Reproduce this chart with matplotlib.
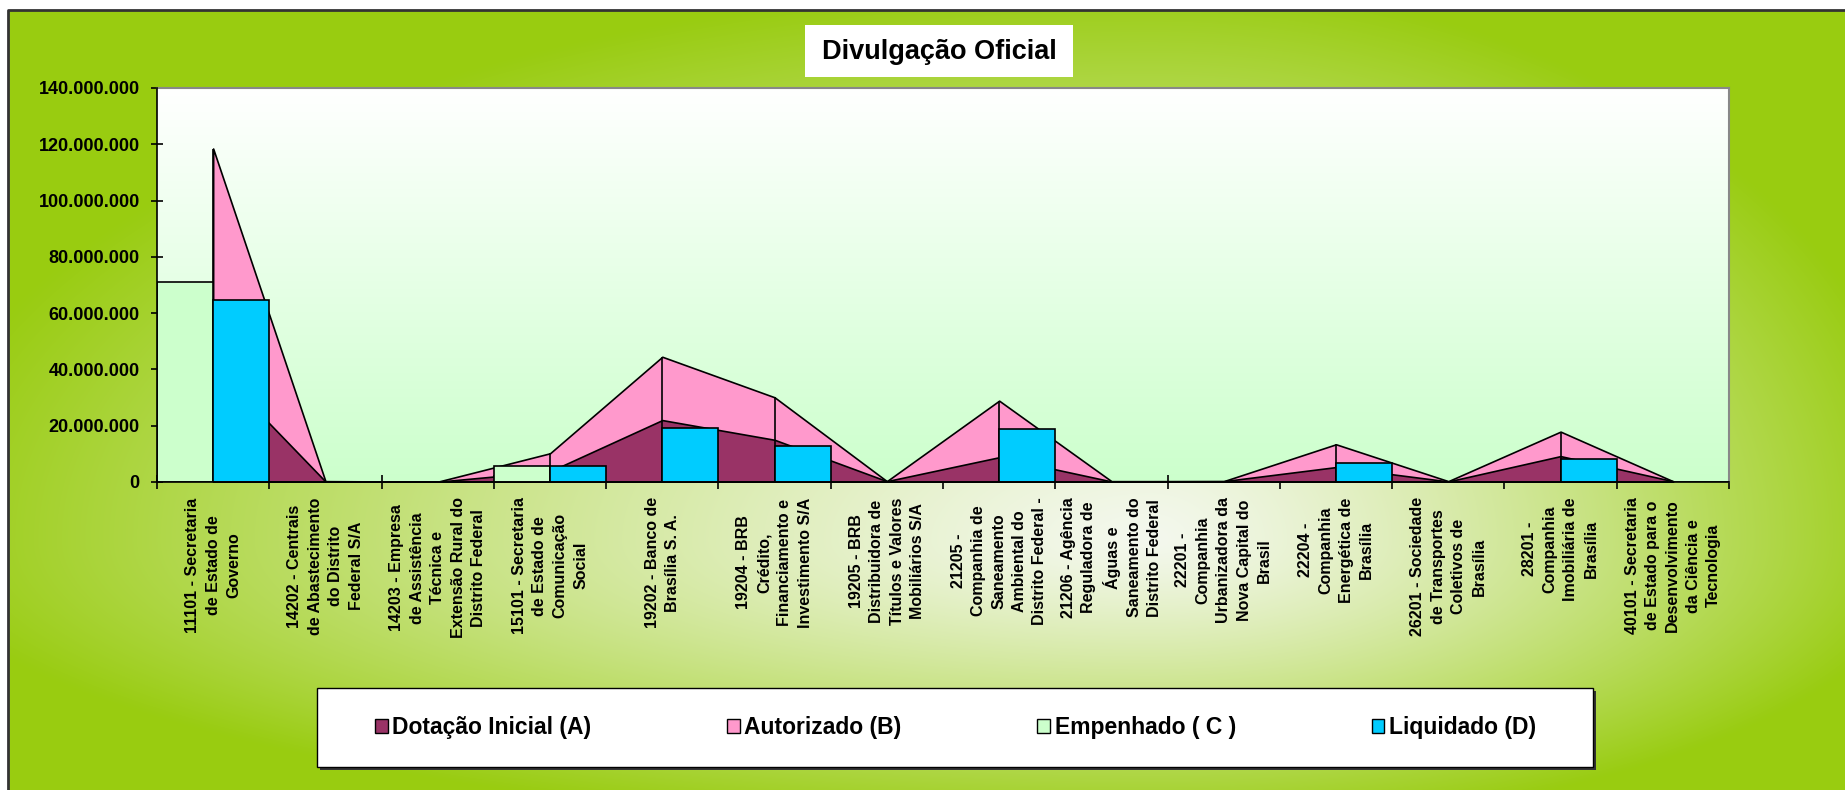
#
# Divulgação Oficial - areas (A, B) with clustered columns (C, D)
#
import numpy as np
import matplotlib.pyplot as plt
from matplotlib.patches import Patch, Rectangle
from matplotlib.colors import LinearSegmentedColormap

plt.rcParams['font.family'] = ['Liberation Sans', 'DejaVu Sans']

#
# data
#
categorias = [
    "11101 - Secretaria\nde Estado de\nGoverno",
    "14202 - Centrais\nde Abastecimento\ndo Distrito\nFederal S/A",
    "14203 - Empresa\nde Assistência\nTécnica e\nExtensão Rural do\nDistrito Federal",
    "15101 - Secretaria\nde Estado de\nComunicação\nSocial",
    "19202 - Banco de\nBrasília S. A.",
    "19204 - BRB\nCrédito,\nFinanciamento e\nInvestimento S/A",
    "19205 - BRB\nDistribuidora de\nTítulos e Valores\nMobiliários S/A",
    "21205 -\nCompanhia de\nSaneamento\nAmbiental do\nDistrito Federal -",
    "21206 - Agência\nReguladora de\nÁguas e\nSaneamento do\nDistrito Federal",
    "22201 -\nCompanhia\nUrbanizadora da\nNova Capital do\nBrasil",
    "22204 -\nCompanhia\nEnergética de\nBrasília",
    "26201 - Sociedade\nde Transportes\nColetivos de\nBrasília",
    "28201 -\nCompanhia\nImobiliária de\nBrasília",
    "40101 - Secretaria\nde Estado para o\nDesenvolvimento\nda Ciência e\nTecnologia",
]
dotacao = [41_500_000, 200_000, 100_000, 3_800_000, 22_000_000, 15_000_000, 300_000,
           8_800_000, 200_000, 300_000, 5_300_000, 200_000, 9_200_000, 300_000]
autorizado = [118_500_000, 300_000, 100_000, 10_200_000, 44_500_000, 30_100_000, 300_000,
              28_900_000, 300_000, 300_000, 13_400_000, 300_000, 17_900_000, 300_000]
empenhado = [70_900_000, 0, 0, 5_700_000, 0, 0, 0, 0, 0, 0, 0, 0, 0, 0]
liquidado = [64_600_000, 0, 0, 5_700_000, 19_100_000, 12_800_000, 0,
             18_900_000, 0, 0, 6_600_000, 0, 8_200_000, 0]
series_nomes = ["Dotação Inicial (A)", "Autorizado (B)", "Empenhado ( C )", "Liquidado (D)"]
cores = ["#993366", "#FF99CC", "#CCFFCC", "#00CCFF"]
yticks = np.arange(0, 140_000_001, 20_000_000)

W, H = 1845, 790
fig = plt.figure(figsize=(W / 100, H / 100), dpi=100, facecolor='white')

#
# chart area background (green gradient) in pixel coordinates
#
bg = fig.add_axes([0, 0, 1, 1])
yy, xx = np.mgrid[0:H, 0:W]
cx, cy = 1150, 540
dx = np.where(xx < cx, (cx - xx) / 1250, (xx - cx) / 780)
dy = np.where(yy < cy, (cy - yy) / 560, (yy - cy) / 290)
t = np.clip(np.sqrt(dx ** 2 + dy ** 2), 0, 1) ** 1.25
light = np.array([0xF4, 0xF8, 0xEE]) / 255
edge = np.array([0x99, 0xCC, 0x11]) / 255
img = light + (edge - light) * t[..., None]
img[:10, :] = 1
img[:, :8] = 1
bg.imshow(img, extent=(0, W, H, 0), aspect='auto', interpolation='bilinear')
bg.plot([8, 8, W], [H, 10, 10], color='#333333', lw=2)
bg.set_xlim(0, W)
bg.set_ylim(H, 0)
bg.axis('off')

# title box
bg.add_patch(Rectangle((805, 25), 268, 52, facecolor='white', edgecolor='none'))
bg.text(939, 52, "Divulgação Oficial", ha='center', va='center',
        fontsize=19.5, fontweight='bold', color='black')

# legend box with shadow
bg.add_patch(Rectangle((320, 691), 1276, 79, facecolor='#333333', edgecolor='none'))
bg.add_patch(Rectangle((317, 688), 1276, 79, facecolor='white', edgecolor='black', lw=1))

#
# plot area
#
ax = fig.add_axes([157 / W, 1 - 482 / H, (1729 - 157) / W, (482 - 88) / H])
x = np.arange(len(categorias))
cmap = LinearSegmentedColormap.from_list('plot_bg', ['#CCFFCC', '#FFFFFF'])
ax.imshow(np.linspace(0, 1, 256)[:, None], cmap=cmap, origin='lower',
          extent=(-0.5, len(x) - 0.5, 0, 140_000_000), aspect='auto', zorder=0)

ax.fill_between(x, autorizado, color=cores[1], edgecolor='black', lw=1.2, zorder=1)
ax.fill_between(x, dotacao, color=cores[0], edgecolor='black', lw=1.2, zorder=2)
ax.vlines(x, 0, np.maximum(dotacao, autorizado), color='black', lw=1.2, zorder=3)
ax.bar(x - 0.25, empenhado, width=0.5, color=cores[2], edgecolor='black', lw=1.2, zorder=4)
ax.bar(x + 0.25, liquidado, width=0.5, color=cores[3], edgecolor='black', lw=1.2, zorder=4)

ax.set_xlim(-0.5, len(x) - 0.5)
ax.set_ylim(0, 140_000_000)
ax.set_yticks(yticks, labels=[f"{v:,}".replace(',', '.') for v in yticks],
              fontsize=13, fontweight='bold')
ax.tick_params(axis='y', direction='inout', length=9, width=1.2, pad=8)
ax.set_xticks(x, labels=categorias, rotation=90, fontsize=11.5, fontweight='bold',
              multialignment='center', linespacing=1.45)
ax.set_xticks(np.arange(-0.5, len(x), 1), minor=True)
ax.tick_params(axis='x', which='major', length=0, pad=11)
ax.tick_params(axis='x', which='minor', direction='inout', length=10, width=1.2)
for s in ['left', 'bottom']:
    ax.spines[s].set_color('black')
    ax.spines[s].set_linewidth(1.2)
    ax.spines[s].set_zorder(5)
for s in ['top', 'right']:
    ax.spines[s].set_color('#888888')
    ax.spines[s].set_linewidth(1.5)

#
# legend
#
handles = [Patch(facecolor=c, edgecolor='black', lw=1) for c in cores]
fig.legend(handles, series_nomes, loc='center', ncol=4, mode='expand', frameon=False,
           bbox_to_anchor=(366 / W, 1 - 767 / H, (1545 - 366) / W, 79 / H),
           prop={'size': 16.5, 'weight': 'bold'}, handlelength=0.55, handleheight=0.55,
           handletextpad=0.2, borderaxespad=0)

fig.savefig('out.png', dpi=100, facecolor='white')
